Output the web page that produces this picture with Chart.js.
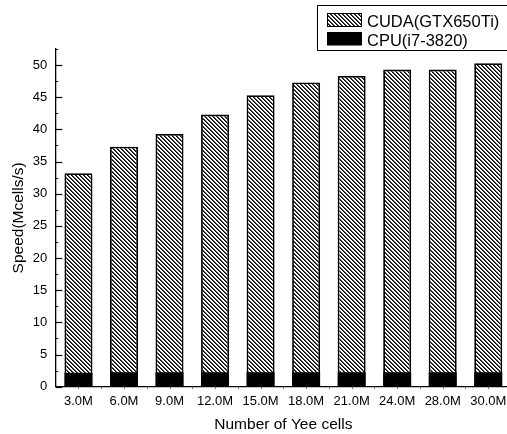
<!DOCTYPE html>
<html>
<head>
<meta charset="utf-8">
<script src="https://cdn.jsdelivr.net/npm/chart.js@4/dist/chart.umd.min.js"></script>
<style>
html,body{margin:0;padding:0;background:#fff;overflow:hidden;}
#wrap{width:520px;height:434px;}
</style>
</head>
<body>
<div id="wrap"><canvas id="c" width="520" height="434"></canvas></div>
<script>
const categories = ['3.0M','6.0M','9.0M','12.0M','15.0M','18.0M','21.0M','24.0M','28.0M','30.0M'];
const cudaSpeed = [33.2, 37.3, 39.3, 42.3, 45.3, 47.3, 48.3, 49.3, 49.3, 50.3];
const cpuSpeed = [2.15, 2.25, 2.25, 2.25, 2.25, 2.25, 2.25, 2.25, 2.25, 2.25];
const yTicks = [0, 5, 10, 15, 20, 25, 30, 35, 40, 45, 50];
const seriesNames = ['CUDA(GTX650Ti)', 'CPU(i7-3820)'];

const FONT = "'Liberation Sans', Arial, sans-serif";

function makeHatch(ctx) {
  const t = document.createElement('canvas');
  t.width = 4; t.height = 4;
  const g = t.getContext('2d');
  g.fillStyle = '#fff'; g.fillRect(0, 0, 4, 4);
  for (let x = 0; x < 4; x++) {
    for (let y = 0; y < 4; y++) {
      const m = ((x - y) % 4 + 4) % 4;
      if (m === 0) { g.fillStyle = '#000'; g.fillRect(x, y, 1, 1); }
      else if (m === 1) { g.fillStyle = '#4a4a4a'; g.fillRect(x, y, 1, 1); }
    }
  }
  return ctx.createPattern(t, 'repeat');
}

const canvas = document.getElementById('c');
const ctx0 = canvas.getContext('2d');
const hatch = makeHatch(ctx0);

const tickPlugin = {
  id: 'tickPlugin',
  afterDraw(chart) {
    const ctx = chart.ctx;
    const y = chart.scales.y, x = chart.scales.x;
    const left = chart.chartArea.left, bottom = chart.chartArea.bottom;
    ctx.save();
    ctx.strokeStyle = '#000';
    ctx.lineWidth = 1.2;
    yTicks.forEach(v => {
      const py = Math.round(y.getPixelForValue(v)) + 0.5;
      ctx.beginPath(); ctx.moveTo(left, py); ctx.lineTo(left + 6.5, py); ctx.stroke();
    });
    ctx.lineWidth = 1;
    for (let i = 0; i < yTicks.length; i++) {
      const v = yTicks[i] + 2.5;
      if (v > y.max) break;
      const py = Math.round(y.getPixelForValue(v)) + 0.5;
      ctx.beginPath(); ctx.moveTo(left, py); ctx.lineTo(left + 2.5, py); ctx.stroke();
    }
    ctx.strokeStyle = '#777';
    for (let i = 0; i < categories.length; i++) {
      const c = x.getPixelForValue(i);
      const half = (x.getPixelForValue(1) - x.getPixelForValue(0)) / 2;
      [c, c + half].forEach(px => {
        ctx.beginPath(); ctx.moveTo(Math.round(px) + 0.5, bottom); ctx.lineTo(Math.round(px) + 0.5, bottom + 2.5); ctx.stroke();
      });
    }
    ctx.restore();

    ctx.save();
    ctx.strokeStyle = '#000';
    ctx.lineWidth = 1;
    ctx.fillStyle = '#fff';
    ctx.fillRect(317.5, 5.5, 210, 45);
    ctx.strokeRect(317.5, 5.5, 210, 45);
    ctx.fillStyle = hatch;
    ctx.fillRect(327, 13.5, 35, 13);
    ctx.strokeRect(327.5, 13.5, 34, 13);
    ctx.fillStyle = '#000';
    ctx.fillRect(327, 32, 35, 13.5);
    ctx.font = '16.5px ' + FONT;
    ctx.textBaseline = 'alphabetic';
    ctx.textAlign = 'left';
    ctx.fillText(seriesNames[0], 367, 27);
    ctx.fillText(seriesNames[1], 367, 45.5);
    ctx.restore();
  }
};

new Chart(canvas, {
  type: 'bar',
  data: {
    labels: categories,
    datasets: [
      {
        label: seriesNames[0],
        data: cudaSpeed,
        backgroundColor: hatch,
        borderColor: '#000',
        borderWidth: 1.8,
        borderSkipped: false,
        grouped: false,
        order: 2,
        barPercentage: 0.615,
        categoryPercentage: 1.0
      },
      {
        label: seriesNames[1],
        data: cpuSpeed,
        backgroundColor: '#000',
        borderColor: '#000',
        borderWidth: 0,
        grouped: false,
        order: 1,
        barPercentage: 0.615,
        categoryPercentage: 1.0
      }
    ]
  },
  options: {
    responsive: false,
    animation: false,
    devicePixelRatio: 1,
    layout: { padding: { left: 0, right: 9, top: 49, bottom: 0 } },
    plugins: {
      legend: { display: false },
      tooltip: { enabled: false }
    },
    scales: {
      x: {
        type: 'category',
        offset: true,
        grid: { display: false, drawTicks: false },
        border: { display: true, color: '#000', width: 1.3 },
        ticks: { color: '#000', font: { family: FONT, size: 13 }, padding: 7, maxRotation: 0, autoSkip: false },
        title: { display: true, text: 'Number of Yee cells', color: '#000', font: { family: FONT, size: 15.5 }, padding: { top: 0, bottom: 0 } },
        afterFit(s) { s.height = 47.3; }
      },
      y: {
        type: 'linear',
        min: 0,
        max: 52.5,
        afterBuildTicks(s) { s.ticks = yTicks.map(v => ({ value: v })); },
        grid: { display: false, drawTicks: false },
        border: { display: true, color: '#000', width: 1.3 },
        ticks: { color: '#000', font: { family: FONT, size: 13 }, padding: 8.5 },
        title: { display: true, text: 'Speed(Mcells/s)', color: '#000', font: { family: FONT, size: 15.5 }, padding: { top: 9, bottom: 0 } },
        afterFit(s) { s.width = 55.7; }
      }
    }
  },
  plugins: [tickPlugin]
});
</script>
</body>
</html>
